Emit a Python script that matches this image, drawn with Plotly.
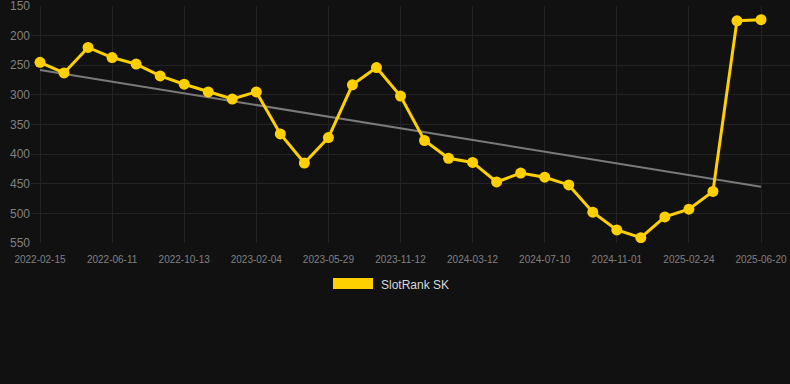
import plotly.graph_objects as go

tick_labels = ["2022-02-15", "2022-06-11", "2022-10-13", "2023-02-04", "2023-05-29",
               "2023-11-12", "2024-03-12", "2024-07-10", "2024-11-01", "2025-02-24",
               "2025-06-20"]
ranks = [245, 263, 220, 237, 248, 268, 282, 295, 307, 295,
         366, 415, 372, 283, 254, 302, 377, 407, 414, 447,
         432, 439, 452, 498, 528, 541, 506, 493, 463, 175, 173]
trend_ends = [258, 455]
series_name = "SlotRank SK"
y_ticks = [150, 200, 250, 300, 350, 400, 450, 500, 550]

x = list(range(len(ranks)))
tick_idx = list(range(0, len(ranks), 3))

W, H = 790, 384
ML, MT, MB = 31, 6, 141
PH = H - MT - MB
PW = W - ML

fig = go.Figure()
fig.add_trace(go.Scatter(
    x=[x[0], x[-1]], y=trend_ends, mode="lines",
    line=dict(color="#7a7a7a", width=2), hoverinfo="skip", showlegend=False))
fig.add_trace(go.Scatter(
    x=x, y=ranks, mode="lines+markers", name=series_name,
    line=dict(color="#FFD000", width=3),
    marker=dict(color="#FFD000", size=11), showlegend=False))

# legend drawn as box + text
fig.add_shape(type="rect", xref="paper", yref="paper",
              x0=(333 - ML) / PW, x1=(373 - ML) / PW,
              y0=-(278 - (MT + PH)) / PH, y1=-(289 - (MT + PH)) / PH,
              fillcolor="#FFD000", line=dict(width=0))
fig.add_annotation(xref="paper", yref="paper", x=(379 - ML) / PW, y=-(284.5 - (MT + PH)) / PH,
                   text=series_name, showarrow=False, xanchor="left", yanchor="middle",
                   font=dict(color="#d8d8d8", size=12, family="Liberation Sans, Arial"))

fig.update_layout(
    width=W, height=H,
    margin=dict(l=ML, r=0, t=MT, b=MB, pad=0),
    paper_bgcolor="#111111", plot_bgcolor="#111111",
    font=dict(family="Liberation Sans, Arial", color="#888888"),
    xaxis=dict(range=[-9 / 24.03, 30 + 29 / 24.03], tickvals=[x[i] for i in tick_idx],
               ticktext=tick_labels, showgrid=True, gridcolor="#232323", gridwidth=1,
               zeroline=False, showline=False, ticks="", ticklabelstandoff=9,
               ticklabeloverflow="allow", tickfont=dict(size=10, color="#808080")),
    yaxis=dict(range=[550, 150], tickvals=y_ticks,
               showgrid=True, gridcolor="#232323", gridwidth=1, zeroline=False,
               ticks="", ticklabeloverflow="allow", tickfont=dict(size=12, color="#808080")),
    showlegend=False,
)

fig.write_html("out.html", config={"displayModeBar": False},
               post_script="document.body.style.margin='0';document.body.style.background='#111111';")
